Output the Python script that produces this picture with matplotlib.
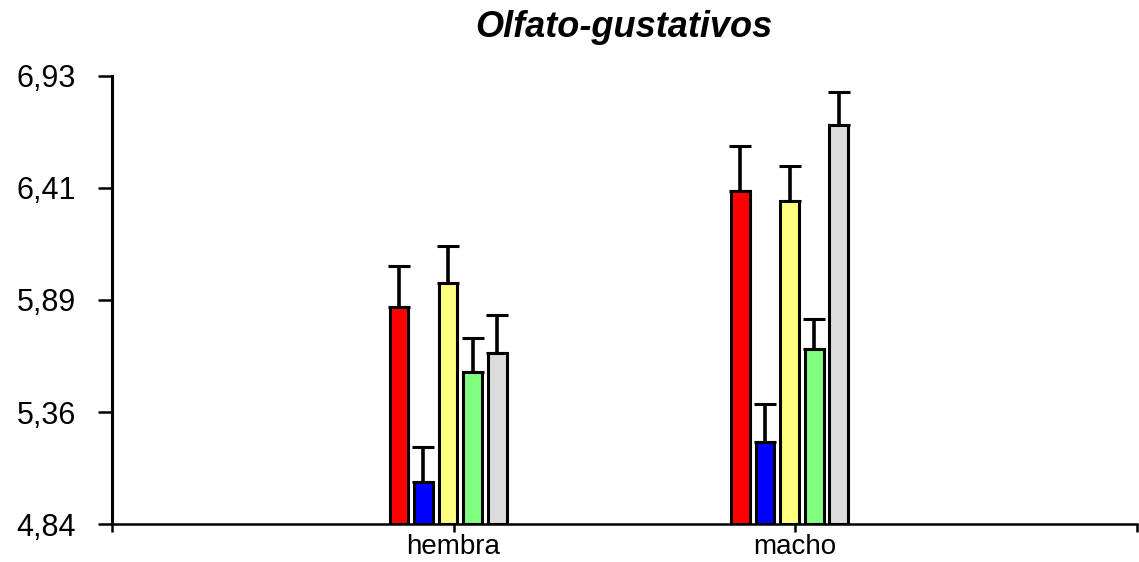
import numpy as np
import matplotlib
matplotlib.use("Agg")
import matplotlib.pyplot as plt

plt.rcParams['font.family'] = ['Liberation Sans', 'DejaVu Sans']

grupos = ['hembra', 'macho']
colores = ['#ff0000', '#0000ff', '#ffff80', '#80ff80', '#dcdcdc']

# medias por serie (una fila por color), columnas = hembra, macho
medias = [
    [5.852, 6.393],
    [5.036, 5.222],
    [5.964, 6.347],
    [5.549, 5.656],
    [5.638, 6.701],
]
errores = [
    [0.190, 0.210],
    [0.163, 0.177],
    [0.173, 0.163],
    [0.159, 0.140],
    [0.177, 0.154],
]
ymin, ymax = 4.84, 6.93
etiquetas_y = ['4,84', '5,36', '5,89', '6,41', '6,93']

fig = plt.figure(figsize=(11.39, 5.62), dpi=100)
ax = fig.add_axes([0.0983, 0.0676, 0.8997, 0.7972])

x = np.arange(1, len(grupos) + 1)
ancho = 0.055
paso = 0.072
for k, (m, e, c) in enumerate(zip(medias, errores, colores)):
    pos = x + (k - 2) * paso - 0.016
    alto = np.array(m) - ymin
    ax.bar(pos, alto, ancho, bottom=ymin, color=c, edgecolor='black',
           linewidth=2.2, zorder=3)
    ax.errorbar(pos, m, yerr=[np.zeros(len(e)), e], fmt='none',
                ecolor='black', elinewidth=2.6, capsize=8, capthick=2.2,
                zorder=2)

ax.set_xlim(0, 3)
ax.set_ylim(ymin, ymax)
ax.set_xticks([0, 1, 2, 3])
ax.set_xticklabels(['', 'hembra', 'macho', ''])
ax.set_yticks(np.linspace(ymin, ymax, 5))
ax.set_yticklabels(etiquetas_y)

for s in ['top', 'right']:
    ax.spines[s].set_visible(False)
ax.spines['left'].set_linewidth(2.2)
ax.spines['bottom'].set_linewidth(1.8)
ax.tick_params(axis='y', direction='out', length=10, width=1.8,
               labelsize=22, pad=16)
ax.tick_params(axis='x', direction='out', length=6, width=1.8,
               labelsize=20, pad=1)

ax.set_title('Olfato-gustativos', fontsize=26, fontweight='bold',
             fontstyle='italic', pad=28)

fig.savefig('out.png', dpi=100)
